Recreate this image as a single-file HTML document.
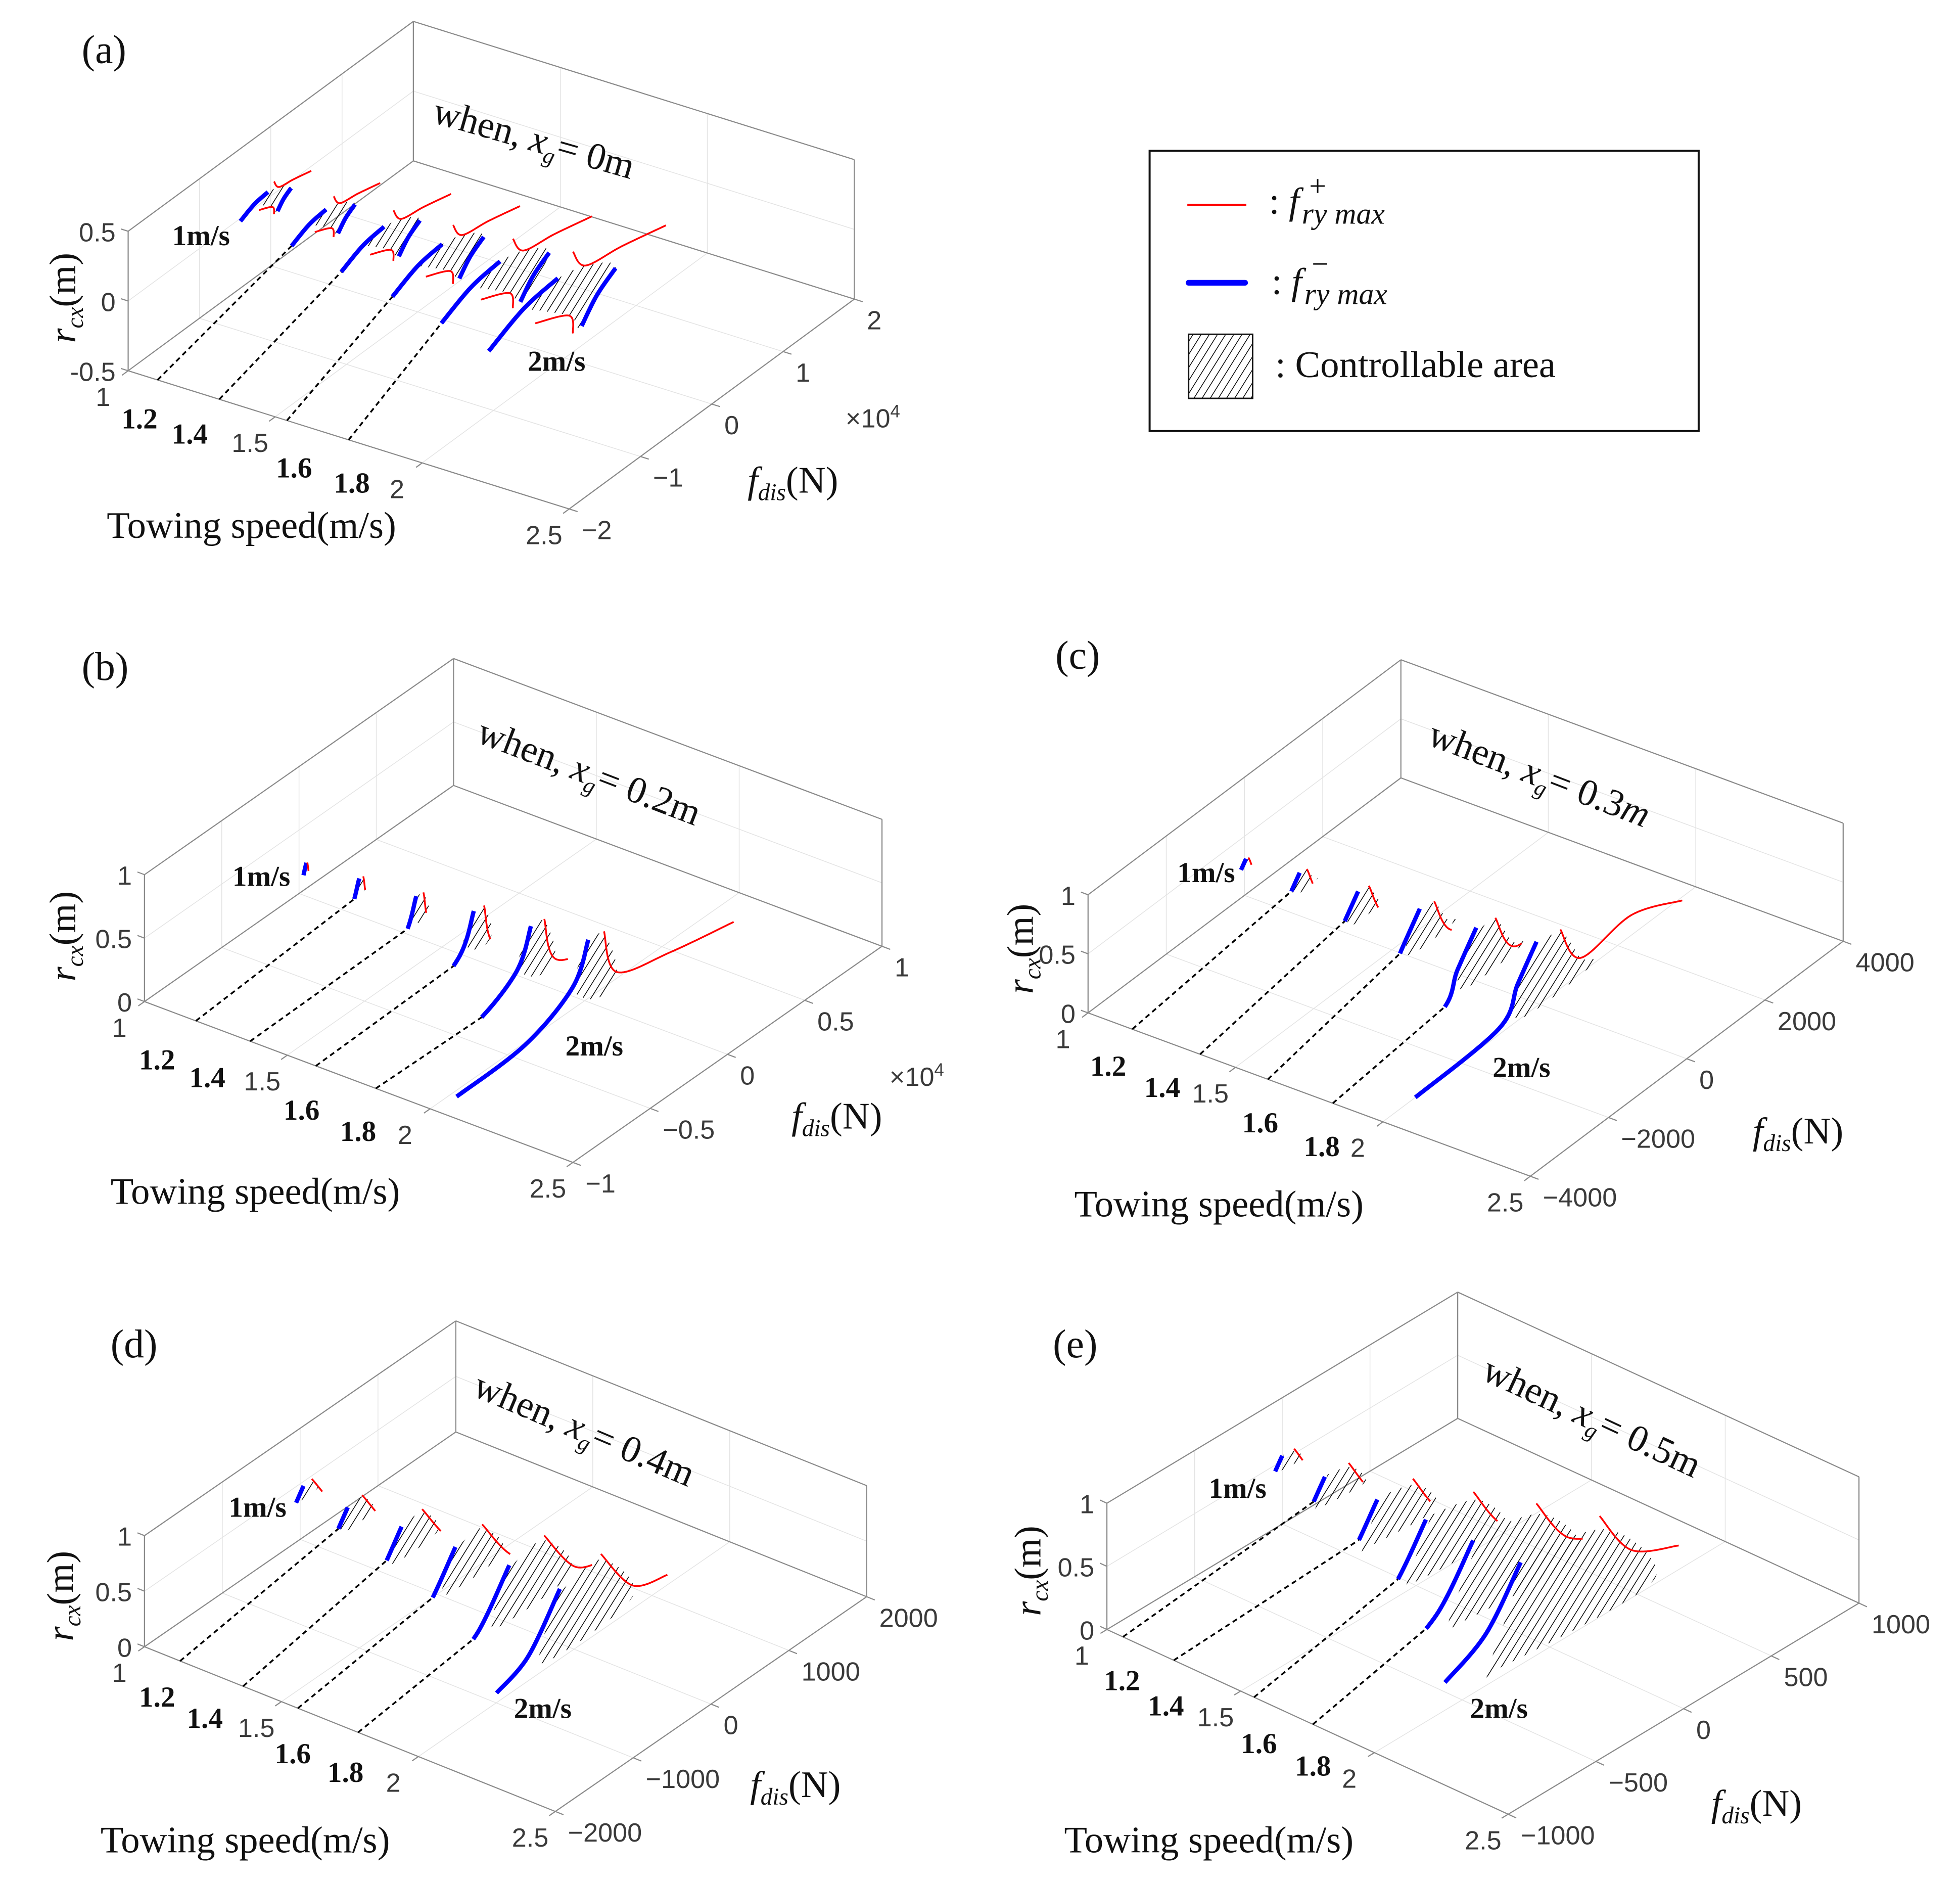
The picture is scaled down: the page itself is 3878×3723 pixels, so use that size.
<!DOCTYPE html>
<html><head><meta charset="utf-8"><title>Controllable area vs towing speed</title>
<style>
html,body{margin:0;padding:0;background:#fff;}
svg{display:block;}
.tk{font-family:"Liberation Sans",sans-serif;font-size:21px;fill:#3a3a3a;}
.sr{font-family:"Liberation Serif",serif;fill:#111;}
.bd{font-family:"Liberation Serif",serif;font-weight:bold;font-size:23px;fill:#111;}
</style></head>
<body>
<svg id="fig" xmlns="http://www.w3.org/2000/svg" width="3878" height="3723" viewBox="0 0 1560 1497.6">
<defs>
<pattern id="hatch" patternUnits="userSpaceOnUse" width="5.5" height="5.5" patternTransform="rotate(32)">
<line x1="0" y1="0" x2="0" y2="5.5" stroke="#000" stroke-width="1.2"/>
</pattern>
</defs>
<rect width="1560" height="1497.6" fill="#fff"/>
<g id="gA"></g>
<g id="gB"></g>
<g id="gC"></g>
<g id="gD"></g>
<g id="gE"></g>

<g class="sr">
<text x="65" y="50" font-size="32">(a)</text>
<text transform="translate(343,97) rotate(16)" font-size="30">when, <tspan font-style="italic">x</tspan><tspan font-size="18" dy="6" font-style="italic">g</tspan><tspan dy="-6">= 0m</tspan></text>
<text x="137" y="195" class="bd">1m/s</text>
<text x="420" y="295" class="bd">2m/s</text>
<text x="111" y="341" class="bd" text-anchor="middle">1.2</text>
<text x="151" y="353" class="bd" text-anchor="middle">1.4</text>
<text x="234" y="380" class="bd" text-anchor="middle">1.6</text>
<text x="280" y="392" class="bd" text-anchor="middle">1.8</text>
<text x="85" y="428" font-size="30">Towing speed(m/s)</text>
<text transform="translate(60,237) rotate(-90)" font-size="30" text-anchor="middle"><tspan font-style="italic">r</tspan><tspan font-style="italic" font-size="19" dy="6">cx</tspan><tspan dy="-6">(m)</tspan></text>
<text x="595" y="392" font-size="30"><tspan font-style="italic">f</tspan><tspan font-style="italic" font-size="19" dy="6">dis</tspan><tspan dy="-6">(N)</tspan></text>
<text x="673" y="340" class="tk" font-size="20">×10<tspan font-size="14" dy="-8">4</tspan></text>
</g>
<g class="sr">
<text x="65" y="541" font-size="32">(b)</text>
<text transform="translate(378,590) rotate(21)" font-size="30">when, <tspan font-style="italic">x</tspan><tspan font-size="18" dy="6" font-style="italic">g</tspan><tspan dy="-6">= 0.2m</tspan></text>
<text x="185" y="705" class="bd">1m/s</text>
<text x="450" y="840" class="bd">2m/s</text>
<text x="125" y="851" class="bd" text-anchor="middle">1.2</text>
<text x="165" y="865" class="bd" text-anchor="middle">1.4</text>
<text x="240" y="891" class="bd" text-anchor="middle">1.6</text>
<text x="285" y="908" class="bd" text-anchor="middle">1.8</text>
<text x="88" y="958" font-size="30">Towing speed(m/s)</text>
<text transform="translate(60,745) rotate(-90)" font-size="30" text-anchor="middle"><tspan font-style="italic">r</tspan><tspan font-style="italic" font-size="19" dy="6">cx</tspan><tspan dy="-6">(m)</tspan></text>
<text x="630" y="898" font-size="30"><tspan font-style="italic">f</tspan><tspan font-style="italic" font-size="19" dy="6">dis</tspan><tspan dy="-6">(N)</tspan></text>
<text x="708" y="864" class="tk" font-size="20">×10<tspan font-size="14" dy="-8">4</tspan></text>
</g>
<g class="sr">
<text x="840" y="532" font-size="32">(c)</text>
<text transform="translate(1135,592) rotate(21)" font-size="30">when, <tspan font-style="italic">x</tspan><tspan font-size="18" dy="6" font-style="italic">g</tspan><tspan dy="-6">= 0.3<tspan font-style="italic">m</tspan></tspan></text>
<text x="937" y="702" class="bd">1m/s</text>
<text x="1188" y="857" class="bd">2m/s</text>
<text x="882" y="856" class="bd" text-anchor="middle">1.2</text>
<text x="925" y="873" class="bd" text-anchor="middle">1.4</text>
<text x="1003" y="901" class="bd" text-anchor="middle">1.6</text>
<text x="1052" y="920" class="bd" text-anchor="middle">1.8</text>
<text x="855" y="968" font-size="30">Towing speed(m/s)</text>
<text transform="translate(822,755) rotate(-90)" font-size="30" text-anchor="middle"><tspan font-style="italic">r</tspan><tspan font-style="italic" font-size="19" dy="6">cx</tspan><tspan dy="-6">(m)</tspan></text>
<text x="1395" y="910" font-size="30"><tspan font-style="italic">f</tspan><tspan font-style="italic" font-size="19" dy="6">dis</tspan><tspan dy="-6">(N)</tspan></text>
</g>
<g class="sr">
<text x="88" y="1080" font-size="32">(d)</text>
<text transform="translate(375,1110) rotate(23)" font-size="30">when, <tspan font-style="italic">x</tspan><tspan font-size="18" dy="6" font-style="italic">g</tspan><tspan dy="-6">= 0.4m</tspan></text>
<text x="182" y="1207" class="bd">1m/s</text>
<text x="409" y="1367" class="bd">2m/s</text>
<text x="125" y="1358" class="bd" text-anchor="middle">1.2</text>
<text x="163" y="1375" class="bd" text-anchor="middle">1.4</text>
<text x="233" y="1403" class="bd" text-anchor="middle">1.6</text>
<text x="275" y="1418" class="bd" text-anchor="middle">1.8</text>
<text x="80" y="1474" font-size="30">Towing speed(m/s)</text>
<text transform="translate(58,1270) rotate(-90)" font-size="30" text-anchor="middle"><tspan font-style="italic">r</tspan><tspan font-style="italic" font-size="19" dy="6">cx</tspan><tspan dy="-6">(m)</tspan></text>
<text x="597" y="1430" font-size="30"><tspan font-style="italic">f</tspan><tspan font-style="italic" font-size="19" dy="6">dis</tspan><tspan dy="-6">(N)</tspan></text>
</g>
<g class="sr">
<text x="838" y="1080" font-size="32">(e)</text>
<text transform="translate(1178,1097) rotate(25)" font-size="30">when, <tspan font-style="italic">x</tspan><tspan font-size="18" dy="6" font-style="italic">g</tspan><tspan dy="-6">= 0.5m</tspan></text>
<text x="962" y="1192" class="bd">1m/s</text>
<text x="1170" y="1367" class="bd">2m/s</text>
<text x="893" y="1345" class="bd" text-anchor="middle">1.2</text>
<text x="928" y="1365" class="bd" text-anchor="middle">1.4</text>
<text x="1002" y="1395" class="bd" text-anchor="middle">1.6</text>
<text x="1045" y="1413" class="bd" text-anchor="middle">1.8</text>
<text x="847" y="1474" font-size="30">Towing speed(m/s)</text>
<text transform="translate(828,1250) rotate(-90)" font-size="30" text-anchor="middle"><tspan font-style="italic">r</tspan><tspan font-style="italic" font-size="19" dy="6">cx</tspan><tspan dy="-6">(m)</tspan></text>
<text x="1362" y="1445" font-size="30"><tspan font-style="italic">f</tspan><tspan font-style="italic" font-size="19" dy="6">dis</tspan><tspan dy="-6">(N)</tspan></text>
</g>

<g>
<rect x="915" y="120" width="437" height="223" fill="#fff" stroke="#111" stroke-width="1.6"/>
<line x1="945" y1="163" x2="992" y2="163" stroke="#f00" stroke-width="1.8"/>
<text class="sr" x="1010" y="170" font-size="30">: <tspan font-style="italic">f</tspan><tspan font-style="italic" font-size="24" dx="2" dy="8">ry max</tspan></text>
<text class="sr" x="1042" y="156" font-size="24">+</text>
<line x1="946" y1="225" x2="991" y2="225" stroke="#0000ff" stroke-width="4.5" stroke-linecap="round"/>
<text class="sr" x="1012" y="234" font-size="30">: <tspan font-style="italic">f</tspan><tspan font-style="italic" font-size="24" dx="2" dy="8">ry max</tspan></text>
<text class="sr" x="1044" y="218" font-size="24">−</text>
<rect x="946" y="266" width="51" height="51" fill="url(#hatch)" stroke="#111" stroke-width="1.2"/>
<text class="sr" x="1015" y="300" font-size="30">: Controllable area</text>
</g>
</svg>
<script>
const speeds = [1, 1.2, 1.4, 1.6, 1.8, 2];
const speedTicks = [1, 1.5, 2, 2.5];
const speedTickLabels = ['1', '1.5', '2', '2.5'];
const zTicksA = [-0.5, 0, 0.5];
const zTickLabelsA = ['-0.5', '0', '0.5'];
const zTicks = [0, 0.5, 1];
const zTickLabels = ['0', '0.5', '1'];

const aFTicks = [-20000, -10000, 0, 10000, 20000];
const aFLabels = ['\u22122', '\u22121', '0', '1', '2'];
const aStarScale = [0.4, 0.5, 0.62, 0.72, 0.85, 1];
const aBlueL = [[-10660, -0.05], [-5730, 0.07], [-970, 0.108]];
const aBlueR = [[2370, -0.36], [4500, -0.22], [7130, -0.124]];
const aRedTop = [[1150, 0.218], [2910, 0.053], [8000, 0.0], [14190, -0.083]];
const aRedBot = [[-4140, -0.096], [620, -0.22], [1150, -0.367]];
const aHatch = [[-970, 0.108], [2910, 0.053], [7130, -0.124], [2370, -0.36], [620, -0.22], [-5730, 0.07]];
const aDashStart = [1.1, 1.31, 1.54, 1.75];

const bFTicks = [-10000, -5000, 0, 5000, 10000];
const bFLabels = ['\u22121', '\u22120.5', '0', '0.5', '1'];
const bBlue = [[236, 0.46], [-787, 0.17], [-3854, -0.02], [-8284, -0.05]];
const bRed = [[1252, 0.44], [2073, 0.05], [5553, -0.09], [9642, -0.2]];
const bHatch = [[236, 0.44], [1252, 0.42], [2073, 0.05], [800, -0.05], [-787, 0.17]];
const bAnchorF = [480, 204, 197, 221, 221, 236];
const bAnchorZ = [0.2, 0.27, 0.3, 0.35, 0.4, 0.46];
const bBlueKeep = [0.06, 0.1, 0.16, 0.28, 0.5, 1];
const bRedKeep = [0.05, 0.08, 0.12, 0.2, 0.32, 1];
const bHatchScale = [0.05, 0.25, 0.45, 0.65, 0.85, 1];
const bDashStart = [1.18, 1.37, 1.6, 1.81];

const cFTicks = [-4000, -2000, 0, 2000, 4000];
const cFLabels = ['\u22124000', '\u22122000', '0', '2000', '4000'];
const cBlue = [[-71, 0.547], [-550, 0.31], [-1033, 0.05], [-3171, 0]];
const cRed = [[538, 0.5], [1056, 0.13], [2355, 0.17], [3656, -0.03]];
const cHatch = [[-71, 0.5], [538, 0.48], [1056, 0.13], [1384, 0], [-488, 0], [-550, 0.31]];
const cAnchorF = [40, -96, -110, -40, -104, -71];
const cAnchorZ = [0.30, 0.40, 0.43, 0.45, 0.49, 0.547];
const cBlueKeep = [0.06, 0.1, 0.16, 0.24, 0.42, 1];
const cRedKeep = [0.05, 0.1, 0.15, 0.22, 0.28, 1];
const cHatchScale = [0.1, 0.3, 0.45, 0.6, 0.8, 1];
const cDashStart = [1.15, 1.38, 1.61, 1.83];

const dFTicks = [-2000, -1000, 0, 1000, 2000];
const dFLabels = ['\u22122000', '\u22121000', '0', '1000', '2000'];
const dBlue = [[-182, 0.63], [-589, 0.22], [-996, 0.087]];
const dRed = [[345, 0.69], [752, 0.21], [1199, 0.09]];
const dHatch = [[-182, 0.6], [345, 0.64], [752, 0.11], [-305, 0.05], [-430, 0.22]];
const dAnchorF = [44, -92, -104, -116, -128, -182];
const dAnchorZ = [0.46, 0.53, 0.56, 0.58, 0.62, 0.63];
const dBlueKeep = [0.15, 0.19, 0.3, 0.45, 0.67, 1];
const dRedKeep = [0.2, 0.25, 0.35, 0.5, 0.75, 1];
const dHatchScale = [0.2, 0.35, 0.5, 0.65, 0.85, 1];
const dDashStart = [1.13, 1.36, 1.56, 1.78];

const eFTicks = [-1000, -500, 0, 500, 1000];
const eFLabels = ['\u22121000', '\u2212500', '0', '500', '1000'];
const eBlue = [[-166, 0.81], [-364, 0.41], [-598, 0.22]];
const eRed = [[284, 0.80], [465, 0.38], [735, 0.19]];
const eHatch = [[-112, 0.83], [303, 0.68], [573, 0.23], [519, 0.005], [-256, 0.07], [-346, 0.13]];
const eAnchorF = [0, -62, -68, -96, -132, -166];
const eAnchorZ = [0.54, 0.62, 0.64, 0.70, 0.76, 0.81];
const eBlueKeep = [0.12, 0.19, 0.31, 0.46, 0.7, 1];
const eRedKeep = [0.15, 0.25, 0.3, 0.4, 0.65, 1];
const eHatchScale = [0.15, 0.3, 0.45, 0.6, 0.8, 1];
const eDashStart = [1.06, 1.25, 1.55, 1.77];

const NS = 'http://www.w3.org/2000/svg';
function mk(tag, attrs, parent) {
  const e = document.createElementNS(NS, tag);
  for (const k in attrs) e.setAttribute(k, attrs[k]);
  parent.appendChild(e);
  return e;
}
function proj(g, s, f, z) {
  const u = (s - 1) / 1.5, v = (f + g.Fm) / (2 * g.Fm), w = (z - g.z0) / (g.z1 - g.z0);
  return [g.L[0] + u * (g.F[0] - g.L[0]) + v * (g.R[0] - g.F[0]),
          g.L[1] + u * (g.F[1] - g.L[1]) + v * (g.R[1] - g.F[1]) - w * g.H];
}
function dens(p) {
  if (p.length < 2) return p.slice();
  const out = [], n = p.length;
  for (let i = 0; i < n - 1; i++) {
    const p0 = p[Math.max(i - 1, 0)], p1 = p[i], p2 = p[i + 1], p3 = p[Math.min(i + 2, n - 1)];
    for (let k = 0; k < 16; k++) {
      const t = k / 16, t2 = t * t, t3 = t2 * t;
      const c = (a, b, cc, d) => 0.5 * (2 * b + (-a + cc) * t + (2 * a - 5 * b + 4 * cc - d) * t2 + (-a + 3 * b - 3 * cc + d) * t3);
      out.push([c(p0[0], p1[0], p2[0], p3[0]), c(p0[1], p1[1], p2[1], p3[1])]);
    }
  }
  out.push(p[n - 1]);
  return out;
}
function trunc(p, frac) {
  if (frac >= 1) return p;
  let total = 0;
  for (let i = 1; i < p.length; i++) total += Math.hypot(p[i][0] - p[i - 1][0], p[i][1] - p[i - 1][1]);
  const lim = total * frac, out = [p[0]];
  let acc = 0;
  for (let i = 1; i < p.length; i++) {
    const d = Math.hypot(p[i][0] - p[i - 1][0], p[i][1] - p[i - 1][1]);
    if (acc + d >= lim) {
      const t = (lim - acc) / d;
      out.push([p[i - 1][0] + t * (p[i][0] - p[i - 1][0]), p[i - 1][1] + t * (p[i][1] - p[i - 1][1])]);
      return out;
    }
    acc += d; out.push(p[i]);
  }
  return out;
}
const pts = a => a.map(q => q[0].toFixed(2) + ',' + q[1].toFixed(2)).join(' ');

function drawAxes(root, g, zT, zL, fT, fL) {
  const grid = mk('g', {stroke: '#e3e3e3', 'stroke-width': 0.6, fill: 'none'}, root);
  
  
  const line = (a, b, par) => mk('line', {x1: a[0], y1: a[1], x2: b[0], y2: b[1]}, par);
  speedTicks.forEach(s => {
    let l = line(proj(g, s, -g.Fm, g.z0), proj(g, s, g.Fm, g.z0), grid);
    
    
    l = line(proj(g, s, g.Fm, g.z0), proj(g, s, g.Fm, g.z1), grid);
    
    
  });
  fT.forEach(f => {
    let l = line(proj(g, 1, f, g.z0), proj(g, 2.5, f, g.z0), grid);
    
    
    l = line(proj(g, 1, f, g.z0), proj(g, 1, f, g.z1), grid);
    
    
  });
  zT.forEach(z => {
    let l = line(proj(g, 1, -g.Fm, z), proj(g, 1, g.Fm, z), grid);
    
    
    l = line(proj(g, 1, g.Fm, z), proj(g, 2.5, g.Fm, z), grid);
    
    
  });
  const box = mk('g', {stroke: '#8a8a8a', 'stroke-width': 0.9, fill: 'none'}, root);
  
  
  const Lb = proj(g, 1, -g.Fm, g.z0), Lt = proj(g, 1, -g.Fm, g.z1), Fb = proj(g, 2.5, -g.Fm, g.z0),
        Rb = proj(g, 2.5, g.Fm, g.z0), Rt = proj(g, 2.5, g.Fm, g.z1), Bb = proj(g, 1, g.Fm, g.z0), Bt = proj(g, 1, g.Fm, g.z1);
  [[Lb, Fb, 'speed-axis'], [Fb, Rb, 'fdis-axis'], [Lb, Lt, 'z-axis'], [Lt, Bt, 'box-edge'], [Bt, Rt, 'box-edge'],
   [Bb, Bt, 'box-edge'], [Rb, Rt, 'box-edge'], [Lb, Bb, 'box-edge'], [Bb, Rb, 'box-edge']].forEach(e => {
    const l = line(e[0], e[1], box);
    
    
  });
  const V = [g.R[0] - g.F[0], g.R[1] - g.F[1]], Vn = Math.hypot(V[0], V[1]);
  const U = [g.F[0] - g.L[0], g.F[1] - g.L[1]], Un = Math.hypot(U[0], U[1]);
  speedTicks.forEach((s, i) => {
    const p = proj(g, s, -g.Fm, g.z0);
    const t = line(p, [p[0] - 6 * V[0] / Vn, p[1] - 6 * V[1] / Vn], box);
    
    
    const tx = mk('text', {x: p[0] - 20, y: p[1] + 28, 'text-anchor': 'middle', class: 'tk'}, root);
    tx.textContent = speedTickLabels[i];
    
    
  });
  fT.forEach((f, i) => {
    const p = proj(g, 2.5, f, g.z0);
    const t = line(p, [p[0] + 7 * U[0] / Un, p[1] + 7 * U[1] / Un], box);
    
    
    const tx = mk('text', {x: p[0] + 10, y: p[1] + 24, 'text-anchor': 'start', class: 'tk'}, root);
    tx.textContent = fL[i];
    
    
  });
  zT.forEach((z, i) => {
    const p = proj(g, 1, -g.Fm, z);
    const t = line(p, [p[0] - 6 * U[0] / Un, p[1] - 6 * U[1] / Un], box);
    
    
    const tx = mk('text', {x: p[0] - 10, y: p[1] + 8, 'text-anchor': 'end', class: 'tk'}, root);
    tx.textContent = zL[i];
    
    
  });
}
function curve(par, p, color, w, name) {
  const e = mk('polyline', {points: pts(p), fill: 'none', stroke: color, 'stroke-width': w, 'stroke-linejoin': 'round'}, par);
  
  
  return e;
}
function hatchPoly(par, p, name) {
  const e = mk('polygon', {points: pts(p), fill: 'url(#hatch)', stroke: 'none'}, par);
  
  
}
function dash(par, a, b) {
  const e = mk('line', {x1: a[0], y1: a[1], x2: b[0], y2: b[1], stroke: '#000', 'stroke-width': 1.4, 'stroke-dasharray': '4 3'}, par);
  
  
}

(function () {
  const g = {L: [102, 295], F: [453, 405], R: [680, 238], H: 111, z0: -0.5, z1: 0.5, Fm: 20000};
  const root = document.getElementById('gA');
  drawAxes(root, g, zTicksA, zTickLabelsA, aFTicks, aFLabels);
  const hg = mk('g', {}, root), bg = mk('g', {}, root), rg = mk('g', {}, root), dg = mk('g', {}, root);
  const starts = [];
  speeds.forEach((s, i) => {
    const k = aStarScale[i];
    const P = arr => arr.map(q => proj(g, s, k * q[0], k * q[1]));
    hatchPoly(hg, dens(P(aHatch)), 'controllable-area-' + s);
    const bl = dens(P(aBlueL));
    starts.push(bl[0]);
    curve(bg, bl, '#0000ff', 3.4, 'fry-minus-left-' + s);
    curve(bg, dens(P(aBlueR)), '#0000ff', 3.4, 'fry-minus-right-' + s);
    curve(rg, dens(P(aRedTop)), '#ff0000', 1.4, 'fry-plus-top-' + s);
    curve(rg, dens(P(aRedBot)), '#ff0000', 1.4, 'fry-plus-bottom-' + s);
  });
  aDashStart.forEach((s, j) => dash(dg, proj(g, s, -g.Fm, g.z0), starts[j + 1]));
})();

function drawOpen(id, g, fT, fL, blue, red, hatch, aF, aZ, bKeep, rKeep, hScale, dStart) {
  const root = document.getElementById(id);
  drawAxes(root, g, zTicks, zTickLabels, fT, fL);
  const hg = mk('g', {}, root), bg = mk('g', {}, root), rg = mk('g', {}, root), dg = mk('g', {}, root);
  const tA = blue[0], rT0 = red[0];
  const ends = [];
  speeds.forEach((s, i) => {
    const k = hScale[i];
    const hp = hatch.map(q => proj(g, s, aF[i] + k * (q[0] - tA[0]), aZ[i] + k * (q[1] - tA[1])));
    hatchPoly(hg, dens(hp.concat([hp[0]])), 'controllable-area-' + s);
    const bp = trunc(dens(blue.map(q => proj(g, s, aF[i] + q[0] - tA[0], aZ[i] + q[1] - tA[1]))), bKeep[i]);
    ends.push(bp[bp.length - 1]);
    curve(bg, bp, '#0000ff', 3.4, 'fry-minus-' + s);
    const rf = aF[i] + k * (rT0[0] - tA[0]), rz = aZ[i] + k * (rT0[1] - tA[1]);
    const rp = trunc(dens(red.map(q => proj(g, s, rf + q[0] - rT0[0], rz + q[1] - rT0[1]))), rKeep[i]);
    curve(rg, rp, '#ff0000', 1.4, 'fry-plus-' + s);
  });
  dStart.forEach((s, j) => dash(dg, proj(g, s, -g.Fm, g.z0), ends[j + 1]));
}
drawOpen('gB', {L: [115, 797], F: [456, 925], R: [702, 753], H: 101, z0: 0, z1: 1, Fm: 10000},
  bFTicks, bFLabels, bBlue, bRed, bHatch, bAnchorF, bAnchorZ, bBlueKeep, bRedKeep, bHatchScale, bDashStart);
drawOpen('gC', {L: [866, 806], F: [1218, 936], R: [1467, 749], H: 94, z0: 0, z1: 1, Fm: 4000},
  cFTicks, cFLabels, cBlue, cRed, cHatch, cAnchorF, cAnchorZ, cBlueKeep, cRedKeep, cHatchScale, cDashStart);
drawOpen('gD', {L: [115, 1310.4], F: [442, 1441.5], R: [689.8, 1270.6], H: 88.4, z0: 0, z1: 1, Fm: 2000},
  dFTicks, dFLabels, dBlue, dRed, dHatch, dAnchorF, dAnchorZ, dBlueKeep, dRedKeep, dHatchScale, dDashStart);
drawOpen('gE', {L: [881, 1296.7], F: [1200.4, 1443.7], R: [1479.6, 1275.7], H: 100.5, z0: 0, z1: 1, Fm: 1000},
  eFTicks, eFLabels, eBlue, eRed, eHatch, eAnchorF, eAnchorZ, eBlueKeep, eRedKeep, eHatchScale, eDashStart);
</script>
</body></html>
